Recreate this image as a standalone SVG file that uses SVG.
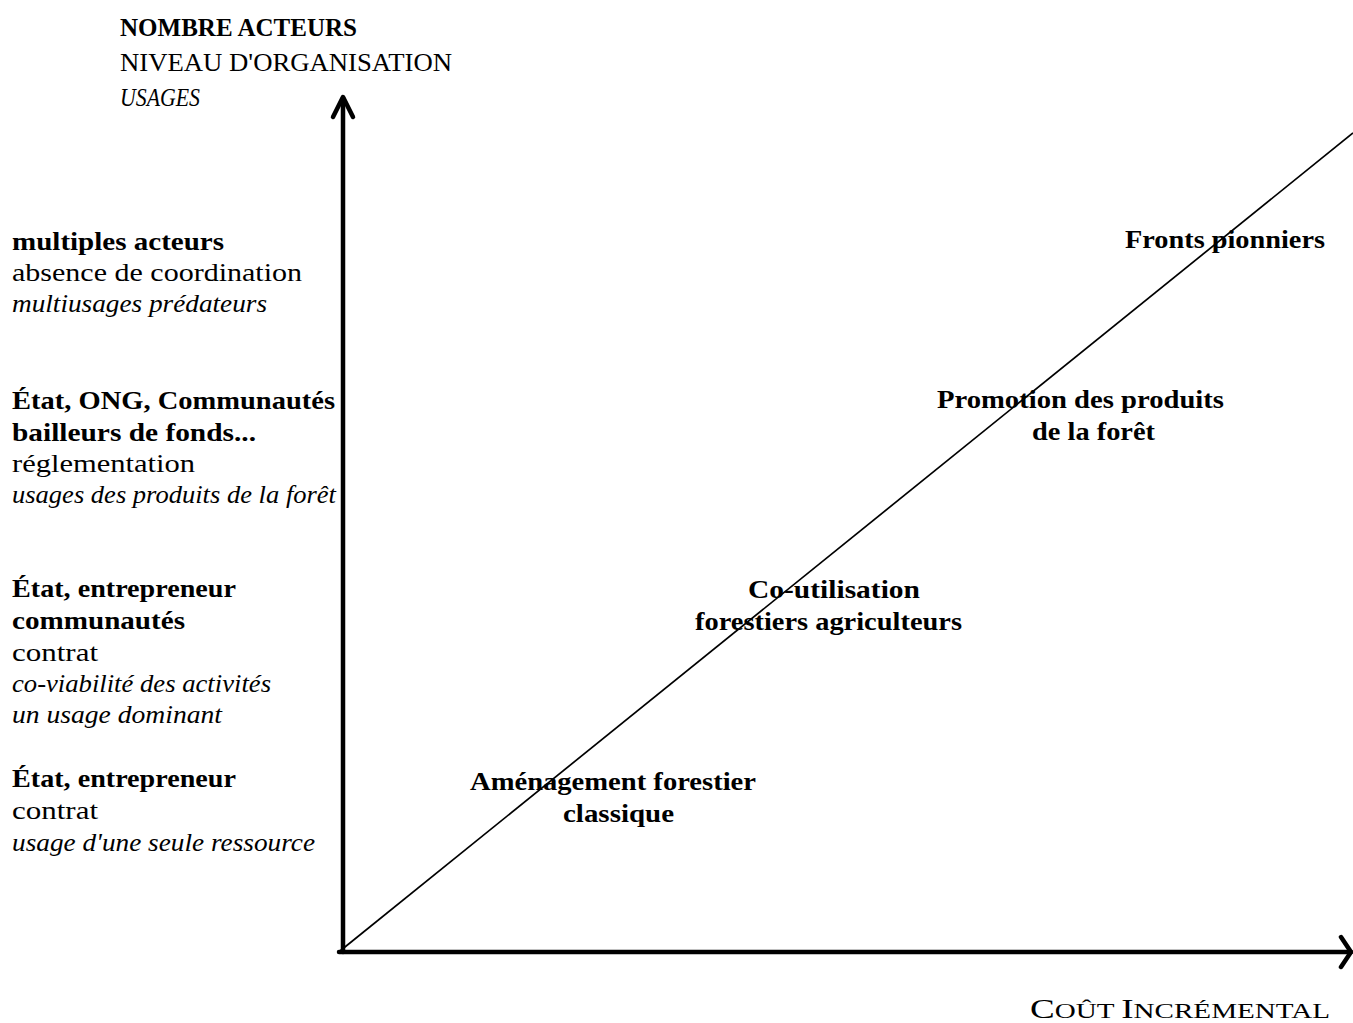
<svg xmlns="http://www.w3.org/2000/svg" width="1353" height="1023" viewBox="0 0 1353 1023">
  <style>
    text { font-family: "Liberation Serif", "DejaVu Serif", serif; font-size: 26px; fill: #000; }
    .b { font-weight: bold; }
    .i { font-style: italic; }
    .axis { stroke: #000; stroke-width: 4.5; fill: none; stroke-linecap: round; stroke-linejoin: round; }
    .diag { stroke: #000; stroke-width: 1.7; fill: none; }
  </style>
  <rect width="1353" height="1023" fill="#fff"/>

  <!-- axes and the diagonal trend line -->
  <g id="connectors">
    <line class="axis" x1="343" y1="98" x2="343" y2="952"/>
    <polyline class="axis" points="333,117 343,97 353,117"/>
    <line class="axis" x1="339" y1="952" x2="1351" y2="952" stroke-width="3.8"/>
    <polyline class="axis" points="1341,937 1351,952 1341,967" stroke-width="3.8"/>
    <line class="diag" x1="340" y1="951" x2="1353" y2="133"/>
  </g>

  <!-- vertical axis title -->
  <g id="axis-y-title">
    <text class="b" x="120" y="36" textLength="237" lengthAdjust="spacingAndGlyphs">NOMBRE ACTEURS</text>
    <text x="120" y="71" textLength="332" lengthAdjust="spacingAndGlyphs">NIVEAU D'ORGANISATION</text>
    <text class="i" x="120" y="106" textLength="80" lengthAdjust="spacingAndGlyphs">USAGES</text>
  </g>

  <!-- horizontal axis title (small capitals) -->
  <g id="axis-x-title">
    <text x="1030" y="1018" textLength="300" lengthAdjust="spacingAndGlyphs"><tspan font-size="28">C</tspan><tspan font-size="22">OÛT </tspan><tspan font-size="28">I</tspan><tspan font-size="22">NCRÉMENTAL</tspan></text>
  </g>

  <!-- levels on the vertical axis -->
  <g id="level-4">
    <text class="b" x="12" y="250" textLength="212" lengthAdjust="spacingAndGlyphs">multiples acteurs</text>
    <text x="12" y="281" textLength="290" lengthAdjust="spacingAndGlyphs">absence de coordination</text>
    <text class="i" x="12" y="312" textLength="255" lengthAdjust="spacingAndGlyphs">multiusages prédateurs</text>
  </g>
  <g id="level-3">
    <text class="b" x="12" y="409" textLength="323" lengthAdjust="spacingAndGlyphs">État, ONG, Communautés</text>
    <text class="b" x="12" y="441" textLength="244" lengthAdjust="spacingAndGlyphs">bailleurs de fonds...</text>
    <text x="12" y="472" textLength="183" lengthAdjust="spacingAndGlyphs">réglementation</text>
    <text class="i" x="12" y="503" textLength="324" lengthAdjust="spacingAndGlyphs">usages des produits de la forêt</text>
  </g>
  <g id="level-2">
    <text class="b" x="12" y="597" textLength="224" lengthAdjust="spacingAndGlyphs">État, entrepreneur</text>
    <text class="b" x="12" y="629" textLength="173" lengthAdjust="spacingAndGlyphs">communautés</text>
    <text x="12" y="661" textLength="86" lengthAdjust="spacingAndGlyphs">contrat</text>
    <text class="i" x="12" y="692" textLength="259" lengthAdjust="spacingAndGlyphs">co-viabilité des activités</text>
    <text class="i" x="12" y="723" textLength="210" lengthAdjust="spacingAndGlyphs">un usage dominant</text>
  </g>
  <g id="level-1">
    <text class="b" x="12" y="787" textLength="224" lengthAdjust="spacingAndGlyphs">État, entrepreneur</text>
    <text x="12" y="819" textLength="86" lengthAdjust="spacingAndGlyphs">contrat</text>
    <text class="i" x="12" y="851" textLength="303" lengthAdjust="spacingAndGlyphs">usage d'une seule ressource</text>
  </g>

  <!-- stages along the diagonal -->
  <g id="stage-amenagement">
    <text class="b" x="470" y="790" textLength="286" lengthAdjust="spacingAndGlyphs">Aménagement forestier</text>
    <text class="b" x="563" y="822" textLength="111" lengthAdjust="spacingAndGlyphs">classique</text>
  </g>
  <g id="stage-co-utilisation">
    <text class="b" x="748" y="598" textLength="172" lengthAdjust="spacingAndGlyphs">Co-utilisation</text>
    <text class="b" x="695" y="630" textLength="267" lengthAdjust="spacingAndGlyphs">forestiers agriculteurs</text>
  </g>
  <g id="stage-promotion">
    <text class="b" x="937" y="408" textLength="287" lengthAdjust="spacingAndGlyphs">Promotion des produits</text>
    <text class="b" x="1032" y="440" textLength="123" lengthAdjust="spacingAndGlyphs">de la forêt</text>
  </g>
  <g id="stage-fronts">
    <text class="b" x="1125" y="248" textLength="200" lengthAdjust="spacingAndGlyphs">Fronts pionniers</text>
  </g>
</svg>
